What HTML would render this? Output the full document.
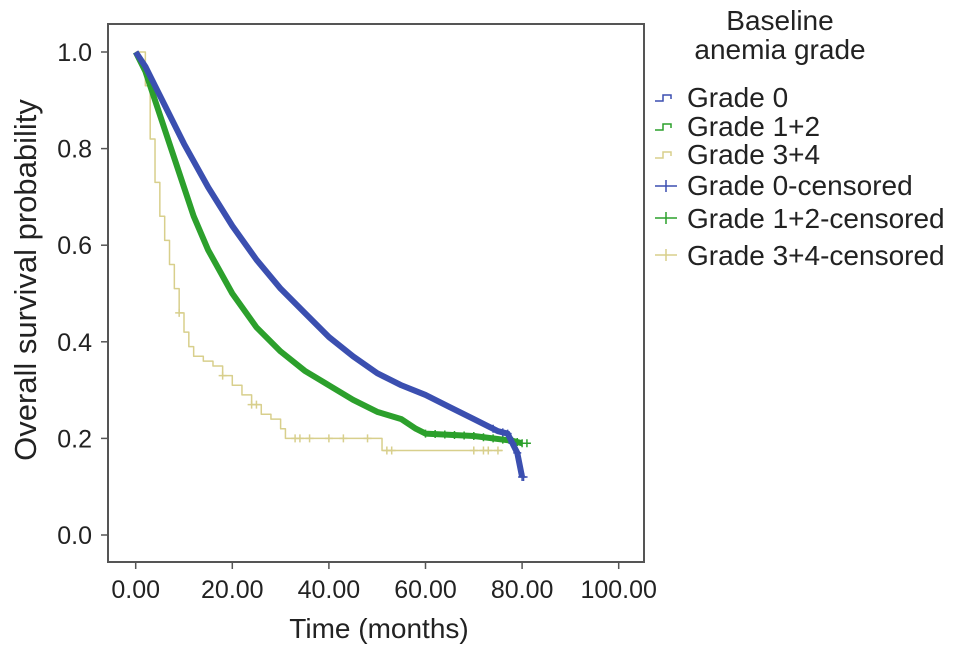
<!DOCTYPE html>
<html><head><meta charset="utf-8"><style>
body{margin:0;background:#fff;}
svg{display:block;font-family:"Liberation Sans",Arial,sans-serif;}
</style></head><body>
<svg id="chart" width="969" height="654">
<rect x="108" y="24" width="536" height="538" fill="#fff" stroke="#555" stroke-width="2"/>
<g id="axes"></g>
<g id="series"></g>
<text x="379" y="638" font-size="28" text-anchor="middle" fill="#222">Time (months)</text>
<text transform="translate(36,280) rotate(-90)" font-size="31" text-anchor="middle" fill="#222">Overall survival probability</text>
<g font-size="28" fill="#222">
<text x="780" y="30" text-anchor="middle">Baseline</text>
<text x="780" y="59" text-anchor="middle">anemia grade</text>
<g><path d="M655,101 h8 v-6 h8 v4" fill="none" stroke="#3b4fb0" stroke-width="1.5"/><text x="687" y="107">Grade 0</text></g>
<g><path d="M655,130 h8 v-6 h8 v4" fill="none" stroke="#2ca02c" stroke-width="1.5"/><text x="687" y="136">Grade 1+2</text></g>
<g><path d="M655,158 h8 v-6 h8 v4" fill="none" stroke="#d8cf8c" stroke-width="1.5"/><text x="687" y="164">Grade 3+4</text></g>
<g><path d="M655,186 h22 M666,180 v12" stroke="#3b4fb0" stroke-width="1.5"/><text x="687" y="195">Grade 0-censored</text></g>
<g><path d="M655,218 h22 M666,212 v12" stroke="#2ca02c" stroke-width="1.5"/><text x="687" y="228">Grade 1+2-censored</text></g>
<g><path d="M655,255 h22 M666,249 v12" stroke="#d8cf8c" stroke-width="1.5"/><text x="687" y="265">Grade 3+4-censored</text></g>
</g>
</svg>
<script>
const xTicks=[0,20,40,60,80,100];
const xTickLabels=["0.00","20.00","40.00","60.00","80.00","100.00"];
const yTicks=[0,0.2,0.4,0.6,0.8,1.0];
const yTickLabels=["0.0","0.2","0.4","0.6","0.8","1.0"];
const g0T=[0,2,4,6,10,15,20,25,30,35,40,45,50,55,60,65,70,75,77,78,79,80];
const g0S=[1,0.97,0.93,0.89,0.81,0.72,0.64,0.57,0.51,0.46,0.41,0.37,0.335,0.31,0.29,0.265,0.24,0.215,0.21,0.19,0.17,0.12];
const g12T=[0,2,4,6,8,10,12,15,20,25,30,35,40,45,50,55,58,60,70,78,80];
const g12S=[1,0.96,0.90,0.84,0.78,0.72,0.66,0.59,0.50,0.43,0.38,0.34,0.31,0.28,0.255,0.24,0.22,0.21,0.205,0.195,0.19];
const g34T=[0,2,3,4,5,6,7,8,9,10,11,12,14,16,18,20,22,24,26,28,30,31,51,76];
const g34S=[1,0.93,0.82,0.73,0.66,0.61,0.56,0.51,0.46,0.42,0.39,0.37,0.36,0.35,0.33,0.31,0.29,0.27,0.25,0.24,0.22,0.20,0.175,0.175];
const g34Cens=[9,18,24,25,33,34,36,40,43,48,52,53,70,72,73,75];
const g0Cens=[74,76,77,78,79,80,80.3];
const g12Cens=[60,62,64,66,68,70,72,74,76,78,79,80,81];
const NS="http://www.w3.org/2000/svg";
const X=t=>135.7+t*4.83, Y=v=>535-v*483;
const ax=document.getElementById('axes'), se=document.getElementById('series');
function mk(tag,attrs,parent){const e=document.createElementNS(NS,tag);for(const k in attrs)e.setAttribute(k,attrs[k]);parent.appendChild(e);return e;}
xTicks.forEach((t,i)=>{
 const l=mk('line',{x1:X(t),x2:X(t),y1:562,y2:569,stroke:'#555','stroke-width':1.5},ax);
 
 
 const tx=mk('text',{x:X(t),y:598,'font-size':25,'text-anchor':'middle',fill:'#222'},ax);tx.textContent=xTickLabels[i];
 
 
});
yTicks.forEach((v,i)=>{
 const l=mk('line',{x1:101,x2:108,y1:Y(v),y2:Y(v),stroke:'#555','stroke-width':1.5},ax);
 
 
 const tx=mk('text',{x:92,y:Y(v)+9,'font-size':25,'text-anchor':'end',fill:'#222'},ax);tx.textContent=yTickLabels[i];
 
 
});
function stepAt(T,S,t){let v=S[0];for(let i=0;i<T.length;i++){if(T[i]<=t)v=S[i];}return v;}
function curve(T,S,color,w,step,name){
 let d='M'+X(T[0])+','+Y(S[0]);
 for(let i=1;i<T.length;i++){ if(step) d+=' H'+X(T[i])+' V'+Y(S[i]); else d+=' L'+X(T[i])+','+Y(S[i]); }
 const p=mk('path',{d:d,fill:'none',stroke:color,'stroke-width':w,'stroke-linejoin':'round'},se);
 
 
}
function lin(T,S,t){for(let i=1;i<T.length;i++){if(t<=T[i]){const f=(t-T[i-1])/(T[i]-T[i-1]);return S[i-1]+f*(S[i]-S[i-1]);}}return S[S.length-1];}
function cens(times,T,S,color,name,step){
 times.forEach(t=>{const v=step?stepAt(T,S,t):lin(T,S,t);
  const p=mk('path',{d:`M${X(t)-4},${Y(v)} h8 M${X(t)},${Y(v)-4} v8`,stroke:color,'stroke-width':1.5},se);
  
  
 });
}
curve(g34T,g34S,'#d8cf8c',1.5,true,'grade34-curve');
cens(g34Cens,g34T,g34S,'#d8cf8c','grade34-censor',true);
curve(g12T,g12S,'#2ca02c',6,false,'grade12-curve');
cens(g12Cens,g12T,g12S,'#2ca02c','grade12-censor',false);
curve(g0T,g0S,'#3b4fb0',6,false,'grade0-curve');
cens(g0Cens,g0T,g0S,'#3b4fb0','grade0-censor',false);
</script>
</body></html>
